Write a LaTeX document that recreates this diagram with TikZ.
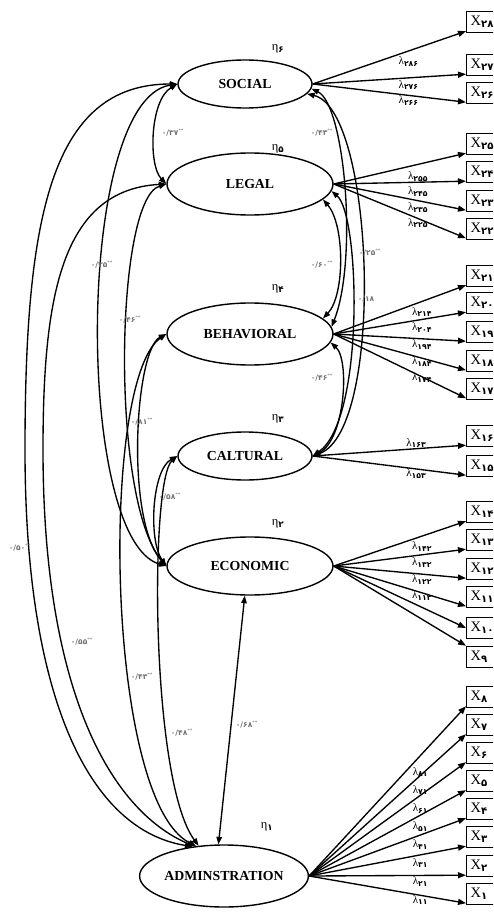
\documentclass[tikz,border=0pt]{standalone}
\usepackage{fontspec}
\setmainfont{Liberation Serif}
\newfontfamily\fa{DejaVu Sans}
\usetikzlibrary{shapes.geometric, arrows.meta, calc}

\newcommand{\lam}[1]{λ\textsubscript{\fa\bfseries #1}}
\newcommand{\etasub}[1]{η\textsubscript{\fa\bfseries #1}}
\newcommand{\corr}[1]{{\fa\bfseries #1}\textsuperscript{**}}

\begin{document}
\begin{tikzpicture}[x=1pt, y=-1pt,
    latent/.style={draw, ellipse, line width=1.4pt, inner sep=0pt, font=\fontsize{13.8}{14}\selectfont\bfseries},
    item/.style={draw, rectangle, line width=1.4pt, anchor=west, minimum height=21pt, text width=32pt, inner xsep=4pt, inner ysep=0pt, align=left, font=\fontsize{14.5}{14}\selectfont},
    load/.style={-{Triangle[length=8pt,width=6pt]}, line width=1.35pt},
    cov/.style={{Triangle[length=7.5pt,width=5.5pt]}-{Triangle[length=7.5pt,width=5.5pt]}, line width=1.35pt},
    lamlab/.style={anchor=north west, inner sep=1pt, font=\fontsize{11}{11}\selectfont},
    lamup/.style={lamlab, anchor=south west},
    corrlab/.style={text=black!55, inner sep=0pt, font=\fontsize{7.5}{8}\selectfont},
    etalab/.style={font=\fontsize{12.5}{12}\selectfont}]
\useasboundingbox (0,0) rectangle (493,917);
\clip (0,0) rectangle (493,917);

% observed items
\foreach \n/\p/\yy in {28/۲۸/22, 27/۲۷/65, 26/۲۶/93, 25/۲۵/144, 24/۲۴/172, 23/۲۳/201, 22/۲۲/229,
    21/۲۱/276, 20/۲۰/303, 19/۱۹/332, 18/۱۸/361, 17/۱۷/389, 16/۱۶/436, 15/۱۵/466,
    14/۱۴/512, 13/۱۳/540, 12/۱۲/569, 11/۱۱/597, 10/۱۰/628, 9/۹/657,
    8/۸/697, 7/۷/725, 6/۶/753, 5/۵/781, 4/۴/809, 3/۳/837, 2/۲/866, 1/۱/894}
  \node[item] (x\n) at (466,\yy) {X\textsubscript{\fa\bfseries\p}};

% latent factors
\node[latent, minimum width=134pt, minimum height=48pt] (soc) at (245,84) {SOCIAL};
\node[latent, minimum width=166pt, minimum height=62pt] (leg) at (250,184) {LEGAL};
\node[latent, minimum width=166pt, minimum height=62pt] (beh) at (250,334) {BEHAVIORAL};
\node[latent, minimum width=134pt, minimum height=48pt] (cal) at (245,456) {CALTURAL};
\node[latent, minimum width=166pt, minimum height=58pt] (eco) at (250,566) {ECONOMIC};
\node[latent, minimum width=168pt, minimum height=62pt] (adm) at (224,876) {ADMINSTRATION};

\node[etalab] (eta6) at ($(soc.north)+(33,-10)$) {\etasub{۶}};
\node[etalab] (eta5) at ($(leg.north)+(28,-3)$) {\etasub{۵}};
\node[etalab] (eta4) at ($(beh.north)+(28,-13)$) {\etasub{۴}};
\node[etalab] (eta3) at ($(cal.north)+(33,-12)$) {\etasub{۳}};
\node[etalab] (eta2) at ($(eco.north)+(28,-12)$) {\etasub{۲}};
\node[etalab] (eta1) at ($(adm.north)+(43,-17)$) {\etasub{۱}};

% loadings
\foreach \n/\s in {28/۲۸۶, 27/۲۷۶, 26/۲۶۶}
  \draw[load] (soc.east) -- node[lamlab, pos=0.55] {\lam{\s}} ([yshift=2pt]x\n.south west);
\foreach \n/\s in {25/۲۵۵, 24/۲۴۵, 23/۲۳۵, 22/۲۲۵}
  \draw[load] (leg.east) -- node[lamlab, pos=0.55, yshift=-3pt] {\lam{\s}} ([yshift=2pt]x\n.south west);
\foreach \n/\s in {21/۲۱۴, 20/۲۰۴, 19/۱۹۴, 18/۱۸۴, 17/۱۷۴}
  \draw[load] (beh.east) -- node[lamlab, pos=0.58] {\lam{\s}} ([yshift=2pt]x\n.south west);
\foreach \n/\s/\st in {16/۱۶۳/lamup, 15/۱۵۳/lamlab}
  \draw[load] (cal.east) -- node[\st, pos=0.6] {\lam{\s}} ([yshift=2pt]x\n.south west);
\foreach \n/\s in {14/۱۴۲, 13/۱۳۲, 12/۱۲۲, 11/۱۱۲}
  \draw[load] (eco.east) -- node[lamlab, pos=0.58] {\lam{\s}} ([yshift=2pt]x\n.south west);
\draw[load] (eco.east) -- (x10.west);
\draw[load] (eco.east) -- (x9.north west);
\foreach \n/\s in {8/۸۱, 7/۷۱, 6/۶۱, 5/۵۱, 4/۴۱, 3/۳۱, 2/۲۱, 1/۱۱}
  \draw[load] (adm.east) -- node[lamlab, pos=0.65] {\lam{\s}} ([yshift=2pt]x\n.south west);

% correlations, left side
\draw[cov] (soc.west) .. controls (150,100) and (148,165) .. (leg.west);
\node[corrlab] (r37) at (173,133) {\corr{۰/۳۷}};
\draw[cov] (soc.west) .. controls (75,100) and (75,540) .. (eco.west);
\node[corrlab] (r35) at (102,265) {\corr{۰/۳۵}};
\draw[cov] (leg.west) .. controls (115,200) and (110,500) .. (eco.west);
\node[corrlab] (r46a) at (130,320) {\corr{۰/۴۶}};
\draw[cov] (beh.west) .. controls (135,350) and (125,520) .. (eco.west);
\node[corrlab] (r81) at (142,422) {\corr{۰/۸۱}};
\draw[cov] (cal.west) .. controls (152,470) and (148,540) .. (eco.west);
\node[corrlab] (r58) at (170,497) {\corr{۰/۵۸}};
\draw[cov] (soc.west) .. controls (50,84) and (25,220) .. (25,450) .. controls (25,700) and (90,830) .. (adm.137);
\node[corrlab] (r50) at (20,548) {\corr{۰/۵۰}};
\draw[cov] (leg.west) .. controls (60,190) and (43,300) .. (43,450) .. controls (43,690) and (110,810) .. (adm.135);
\node[corrlab] (r55) at (82,642) {\corr{۰/۵۵}};
\draw[cov] (beh.west) .. controls (100,380) and (105,800) .. (adm.133);
\node[corrlab] (r43a) at (142,677) {\corr{۰/۴۳}};
\draw[cov] (cal.west) .. controls (150,480) and (150,780) .. (adm.130);
\node[corrlab] (r48) at (182,733) {\corr{۰/۴۸}};
\draw[cov] (adm.100) -- (eco.-100);
\node[corrlab] (r68) at (247,725) {\corr{۰/۶۸}};

% correlations, right side
\draw[cov] (soc.-4) .. controls (345,105) and (358,260) .. (beh.5);
\node[corrlab] (r43b) at (322,133) {\corr{۰/۴۳}};
\draw[cov] (soc.-9) .. controls (375,110) and (385,430) .. (cal.east);
\node[corrlab] (r25) at (370,253) {\corr{۰/۲۵}};
\draw[cov] (leg.-12) .. controls (345,225) and (345,295) .. (beh.12);
\node[corrlab] (r60) at (322,265) {\corr{۰/۶۰}};
\draw[cov] (leg.-5) .. controls (360,215) and (365,420) .. (cal.east);
\node[corrlab] (r18) at (366,299) {{\fa\bfseries ۰/۱۸}};
\draw[cov] (beh.-6) .. controls (350,360) and (345,440) .. (cal.east);
\node[corrlab] (r46b) at (322,378) {\corr{۰/۴۶}};
\end{tikzpicture}
\end{document}
